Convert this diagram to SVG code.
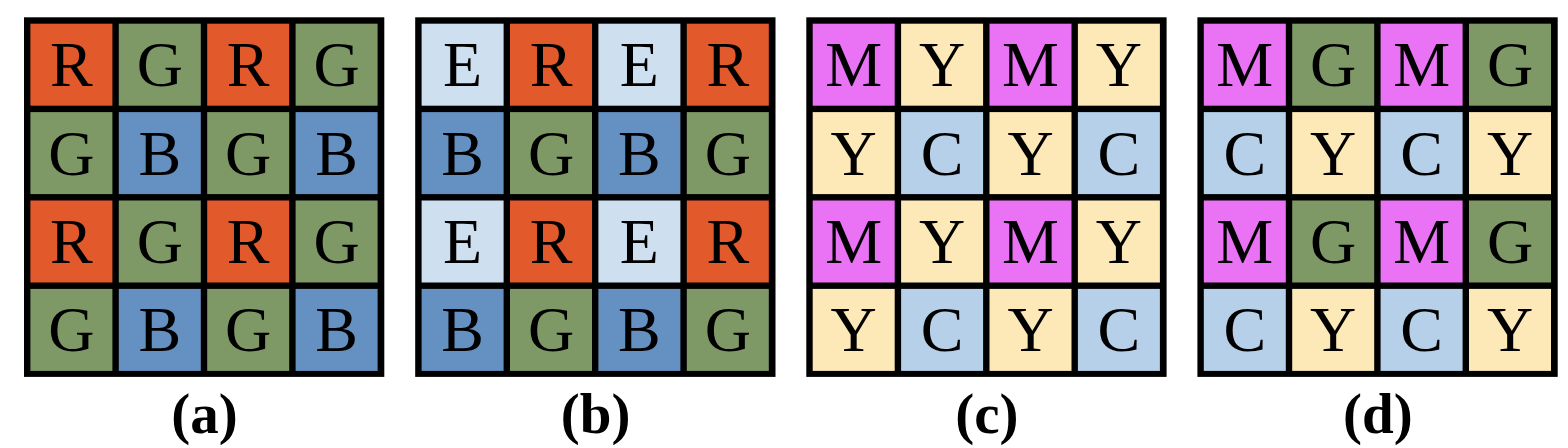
<svg xmlns="http://www.w3.org/2000/svg" width="1568" height="448" viewBox="0 0 1568 448">
<style>
.frame{fill:#000}
.R{fill:#E25A2B}.G{fill:#7E9966}.B{fill:#6590C2}.E{fill:#CEE0F0}
.M{fill:#EA72F4}.Y{fill:#FDE9B8}.C{fill:#B5D0E8}
.t{font-family:"Liberation Serif","Times New Roman",serif;font-size:64px;text-anchor:middle;fill:#000}
.cap{font-family:"Liberation Serif","Times New Roman",serif;font-size:57px;font-weight:bold;text-anchor:middle;fill:#000}
</style>
<rect width="1568" height="448" fill="#fff"/>
<g id="grid-a" transform="translate(24,17.3)">
<rect class="frame" width="360.3" height="359.6"/>
<g id="a-0-0"><rect class="R" x="6.4" y="6.4" width="82" height="82"/><text class="t" x="47.4" y="69">R</text></g>
<g id="a-0-1"><rect class="G" x="94.8" y="6.4" width="82" height="82"/><text class="t" x="135.8" y="69">G</text></g>
<g id="a-0-2"><rect class="R" x="183.2" y="6.4" width="82" height="82"/><text class="t" x="224.2" y="69">R</text></g>
<g id="a-0-3"><rect class="G" x="271.6" y="6.4" width="82" height="82"/><text class="t" x="312.6" y="69">G</text></g>
<g id="a-1-0"><rect class="G" x="6.4" y="94.8" width="82" height="82"/><text class="t" x="47.4" y="157.4">G</text></g>
<g id="a-1-1"><rect class="B" x="94.8" y="94.8" width="82" height="82"/><text class="t" x="135.8" y="157.4">B</text></g>
<g id="a-1-2"><rect class="G" x="183.2" y="94.8" width="82" height="82"/><text class="t" x="224.2" y="157.4">G</text></g>
<g id="a-1-3"><rect class="B" x="271.6" y="94.8" width="82" height="82"/><text class="t" x="312.6" y="157.4">B</text></g>
<g id="a-2-0"><rect class="R" x="6.4" y="183.2" width="82" height="82"/><text class="t" x="47.4" y="245.8">R</text></g>
<g id="a-2-1"><rect class="G" x="94.8" y="183.2" width="82" height="82"/><text class="t" x="135.8" y="245.8">G</text></g>
<g id="a-2-2"><rect class="R" x="183.2" y="183.2" width="82" height="82"/><text class="t" x="224.2" y="245.8">R</text></g>
<g id="a-2-3"><rect class="G" x="271.6" y="183.2" width="82" height="82"/><text class="t" x="312.6" y="245.8">G</text></g>
<g id="a-3-0"><rect class="G" x="6.4" y="271.6" width="82" height="82"/><text class="t" x="47.4" y="334.2">G</text></g>
<g id="a-3-1"><rect class="B" x="94.8" y="271.6" width="82" height="82"/><text class="t" x="135.8" y="334.2">B</text></g>
<g id="a-3-2"><rect class="G" x="183.2" y="271.6" width="82" height="82"/><text class="t" x="224.2" y="334.2">G</text></g>
<g id="a-3-3"><rect class="B" x="271.6" y="271.6" width="82" height="82"/><text class="t" x="312.6" y="334.2">B</text></g>
<text class="cap" x="180.5" y="415.7">(a)</text>
</g>
<g id="grid-b" transform="translate(415.2,17.3)">
<rect class="frame" width="360.3" height="359.6"/>
<g id="b-0-0"><rect class="E" x="6.4" y="6.4" width="82" height="82"/><text class="t" x="47.4" y="69">E</text></g>
<g id="b-0-1"><rect class="R" x="94.8" y="6.4" width="82" height="82"/><text class="t" x="135.8" y="69">R</text></g>
<g id="b-0-2"><rect class="E" x="183.2" y="6.4" width="82" height="82"/><text class="t" x="224.2" y="69">E</text></g>
<g id="b-0-3"><rect class="R" x="271.6" y="6.4" width="82" height="82"/><text class="t" x="312.6" y="69">R</text></g>
<g id="b-1-0"><rect class="B" x="6.4" y="94.8" width="82" height="82"/><text class="t" x="47.4" y="157.4">B</text></g>
<g id="b-1-1"><rect class="G" x="94.8" y="94.8" width="82" height="82"/><text class="t" x="135.8" y="157.4">G</text></g>
<g id="b-1-2"><rect class="B" x="183.2" y="94.8" width="82" height="82"/><text class="t" x="224.2" y="157.4">B</text></g>
<g id="b-1-3"><rect class="G" x="271.6" y="94.8" width="82" height="82"/><text class="t" x="312.6" y="157.4">G</text></g>
<g id="b-2-0"><rect class="E" x="6.4" y="183.2" width="82" height="82"/><text class="t" x="47.4" y="245.8">E</text></g>
<g id="b-2-1"><rect class="R" x="94.8" y="183.2" width="82" height="82"/><text class="t" x="135.8" y="245.8">R</text></g>
<g id="b-2-2"><rect class="E" x="183.2" y="183.2" width="82" height="82"/><text class="t" x="224.2" y="245.8">E</text></g>
<g id="b-2-3"><rect class="R" x="271.6" y="183.2" width="82" height="82"/><text class="t" x="312.6" y="245.8">R</text></g>
<g id="b-3-0"><rect class="B" x="6.4" y="271.6" width="82" height="82"/><text class="t" x="47.4" y="334.2">B</text></g>
<g id="b-3-1"><rect class="G" x="94.8" y="271.6" width="82" height="82"/><text class="t" x="135.8" y="334.2">G</text></g>
<g id="b-3-2"><rect class="B" x="183.2" y="271.6" width="82" height="82"/><text class="t" x="224.2" y="334.2">B</text></g>
<g id="b-3-3"><rect class="G" x="271.6" y="271.6" width="82" height="82"/><text class="t" x="312.6" y="334.2">G</text></g>
<text class="cap" x="180.5" y="415.7">(b)</text>
</g>
<g id="grid-c" transform="translate(806.3,17.3)">
<rect class="frame" width="360.3" height="359.6"/>
<g id="c-0-0"><rect class="M" x="6.4" y="6.4" width="82" height="82"/><text class="t" x="47.4" y="69">M</text></g>
<g id="c-0-1"><rect class="Y" x="94.8" y="6.4" width="82" height="82"/><text class="t" x="135.8" y="69">Y</text></g>
<g id="c-0-2"><rect class="M" x="183.2" y="6.4" width="82" height="82"/><text class="t" x="224.2" y="69">M</text></g>
<g id="c-0-3"><rect class="Y" x="271.6" y="6.4" width="82" height="82"/><text class="t" x="312.6" y="69">Y</text></g>
<g id="c-1-0"><rect class="Y" x="6.4" y="94.8" width="82" height="82"/><text class="t" x="47.4" y="157.4">Y</text></g>
<g id="c-1-1"><rect class="C" x="94.8" y="94.8" width="82" height="82"/><text class="t" x="135.8" y="157.4">C</text></g>
<g id="c-1-2"><rect class="Y" x="183.2" y="94.8" width="82" height="82"/><text class="t" x="224.2" y="157.4">Y</text></g>
<g id="c-1-3"><rect class="C" x="271.6" y="94.8" width="82" height="82"/><text class="t" x="312.6" y="157.4">C</text></g>
<g id="c-2-0"><rect class="M" x="6.4" y="183.2" width="82" height="82"/><text class="t" x="47.4" y="245.8">M</text></g>
<g id="c-2-1"><rect class="Y" x="94.8" y="183.2" width="82" height="82"/><text class="t" x="135.8" y="245.8">Y</text></g>
<g id="c-2-2"><rect class="M" x="183.2" y="183.2" width="82" height="82"/><text class="t" x="224.2" y="245.8">M</text></g>
<g id="c-2-3"><rect class="Y" x="271.6" y="183.2" width="82" height="82"/><text class="t" x="312.6" y="245.8">Y</text></g>
<g id="c-3-0"><rect class="Y" x="6.4" y="271.6" width="82" height="82"/><text class="t" x="47.4" y="334.2">Y</text></g>
<g id="c-3-1"><rect class="C" x="94.8" y="271.6" width="82" height="82"/><text class="t" x="135.8" y="334.2">C</text></g>
<g id="c-3-2"><rect class="Y" x="183.2" y="271.6" width="82" height="82"/><text class="t" x="224.2" y="334.2">Y</text></g>
<g id="c-3-3"><rect class="C" x="271.6" y="271.6" width="82" height="82"/><text class="t" x="312.6" y="334.2">C</text></g>
<text class="cap" x="180.5" y="415.7">(c)</text>
</g>
<g id="grid-d" transform="translate(1197.4,17.3)">
<rect class="frame" width="360.3" height="359.6"/>
<g id="d-0-0"><rect class="M" x="6.4" y="6.4" width="82" height="82"/><text class="t" x="47.4" y="69">M</text></g>
<g id="d-0-1"><rect class="G" x="94.8" y="6.4" width="82" height="82"/><text class="t" x="135.8" y="69">G</text></g>
<g id="d-0-2"><rect class="M" x="183.2" y="6.4" width="82" height="82"/><text class="t" x="224.2" y="69">M</text></g>
<g id="d-0-3"><rect class="G" x="271.6" y="6.4" width="82" height="82"/><text class="t" x="312.6" y="69">G</text></g>
<g id="d-1-0"><rect class="C" x="6.4" y="94.8" width="82" height="82"/><text class="t" x="47.4" y="157.4">C</text></g>
<g id="d-1-1"><rect class="Y" x="94.8" y="94.8" width="82" height="82"/><text class="t" x="135.8" y="157.4">Y</text></g>
<g id="d-1-2"><rect class="C" x="183.2" y="94.8" width="82" height="82"/><text class="t" x="224.2" y="157.4">C</text></g>
<g id="d-1-3"><rect class="Y" x="271.6" y="94.8" width="82" height="82"/><text class="t" x="312.6" y="157.4">Y</text></g>
<g id="d-2-0"><rect class="M" x="6.4" y="183.2" width="82" height="82"/><text class="t" x="47.4" y="245.8">M</text></g>
<g id="d-2-1"><rect class="G" x="94.8" y="183.2" width="82" height="82"/><text class="t" x="135.8" y="245.8">G</text></g>
<g id="d-2-2"><rect class="M" x="183.2" y="183.2" width="82" height="82"/><text class="t" x="224.2" y="245.8">M</text></g>
<g id="d-2-3"><rect class="G" x="271.6" y="183.2" width="82" height="82"/><text class="t" x="312.6" y="245.8">G</text></g>
<g id="d-3-0"><rect class="C" x="6.4" y="271.6" width="82" height="82"/><text class="t" x="47.4" y="334.2">C</text></g>
<g id="d-3-1"><rect class="Y" x="94.8" y="271.6" width="82" height="82"/><text class="t" x="135.8" y="334.2">Y</text></g>
<g id="d-3-2"><rect class="C" x="183.2" y="271.6" width="82" height="82"/><text class="t" x="224.2" y="334.2">C</text></g>
<g id="d-3-3"><rect class="Y" x="271.6" y="271.6" width="82" height="82"/><text class="t" x="312.6" y="334.2">Y</text></g>
<text class="cap" x="180.5" y="415.7">(d)</text>
</g>
<g id="connectors"/>
</svg>
